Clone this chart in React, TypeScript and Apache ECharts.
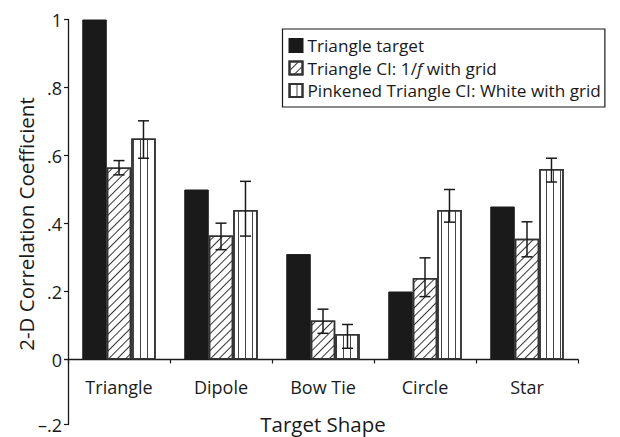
import React, { useEffect, useRef } from "react";
import * as echarts from "echarts";

// Target shapes along the x axis
const categories = ["Triangle", "Dipole", "Bow Tie", "Circle", "Star"];

// Series names
const seriesNames = [
  "Triangle target",
  "Triangle CI: 1/f with grid",
  "Pinkened Triangle CI: White with grid",
];

// 2-D correlation coefficients per shape
const targetValues = [1.0, 0.5, 0.31, 0.2, 0.45];
const pinkCIValues = [0.565, 0.365, 0.115, 0.24, 0.355];
const whiteCIValues = [0.65, 0.44, 0.075, 0.44, 0.56];

// Error bar extents (low / high) for the two CI series
const pinkCILow = [0.543, 0.323, 0.077, 0.185, 0.302];
const pinkCIHigh = [0.585, 0.401, 0.148, 0.299, 0.405];
const whiteCILow = [0.592, 0.363, 0.033, 0.404, 0.522];
const whiteCIHigh = [0.702, 0.524, 0.103, 0.5, 0.592];

const FONT = "'Open Sans', 'Noto Sans', sans-serif";
const INK = "#1a1a1a";
const CAT_GAP = 0.28;

function fmtTick(v: number): string {
  const r = Math.round(v * 10) / 10;
  if (r === 0) return "0";
  if (r === 1) return "1";
  const s = Math.abs(r).toFixed(1).replace(/^0/, "");
  return r < 0 ? "\u2013" + s : s;
}

export default function App() {
  const ref = useRef<HTMLDivElement>(null);

  useEffect(() => {
    if (!ref.current) return;
    const chart = echarts.init(ref.current, undefined, { renderer: "svg" });

    const errorData: number[][] = [];
    categories.forEach((_, i) => {
      errorData.push([i, pinkCILow[i], pinkCIHigh[i], 1]);
      errorData.push([i, whiteCILow[i], whiteCIHigh[i], 2]);
    });

    const axisLine = { show: true, onZero: false, lineStyle: { color: INK, width: 1.3 } };
    const axisTick = { show: true, length: 4, lineStyle: { color: INK, width: 1.2 } };
    const yLabel = { fontFamily: FONT, fontSize: 18, color: INK, margin: 6 };

    const option: any = {
      animation: false,
      backgroundColor: "#fff",
      // upper grid holds the bars (0..1), lower grid carries the negative part of the y axis
      grid: [
        { left: 68, right: 42, top: 19.5, bottom: 77.5, containLabel: false, outerBoundsMode: "none" },
        { left: 68, right: 42, top: 359.5, bottom: 12.5, containLabel: false, outerBoundsMode: "none" },
      ],
      legend: {
        data: seriesNames,
        orient: "vertical",
        left: 282.5,
        top: 29,
        padding: [8, 4, 8, 6],
        itemGap: 5.5,
        itemWidth: 13,
        itemHeight: 13,
        icon: "rect",
        borderColor: INK,
        borderWidth: 1.2,
        backgroundColor: "#fff",
        formatter: (name: string) =>
          name === seriesNames[1] ? "Triangle CI: 1/{i|f} with grid" : name,
        textStyle: {
          fontFamily: FONT,
          fontSize: 17.2,
          color: INK,
          rich: {
            i: { fontFamily: FONT, fontSize: 17.2, fontStyle: "italic", color: INK },
          },
        },
      },
      xAxis: [
        {
          type: "category",
          gridIndex: 0,
          data: categories,
          name: "Target Shape",
          nameLocation: "middle",
          nameGap: 54,
          nameTextStyle: { fontFamily: FONT, fontSize: 20.5, color: INK },
          axisLine,
          axisTick,
          axisLabel: { fontFamily: FONT, fontSize: 18, color: INK, margin: 18 },
          splitLine: { show: false },
        },
        { type: "category", gridIndex: 1, data: categories, show: false },
      ],
      yAxis: [
        {
          type: "value",
          gridIndex: 0,
          min: 0,
          max: 1,
          interval: 0.2,
          axisLine,
          axisTick,
          axisLabel: { ...yLabel, formatter: (v: number) => fmtTick(v) },
          splitLine: { show: false },
        },
        {
          type: "value",
          gridIndex: 1,
          min: -0.2,
          max: 0,
          interval: 0.2,
          axisLine,
          axisTick,
          axisLabel: {
            ...yLabel,
            formatter: (v: number) => (v < 0 ? fmtTick(v) : ""),
          },
          splitLine: { show: false },
        },
      ],
      graphic: [
        {
          type: "text",
          x: 26,
          y: 224,
          rotation: Math.PI / 2,
          style: {
            text: "2-D Correlation Coefficient",
            font: `20.5px ${FONT}`,
            fill: INK,
            align: "center",
            verticalAlign: "middle",
          },
        },
      ],
      series: [
        {
          name: seriesNames[0],
          type: "bar",
          data: targetValues,
          barGap: "0%",
          barCategoryGap: `${CAT_GAP * 100}%`,
          itemStyle: { color: INK, borderColor: INK, borderWidth: 1 },
        },
        {
          name: seriesNames[1],
          type: "bar",
          data: pinkCIValues,
          barGap: "0%",
          barCategoryGap: `${CAT_GAP * 100}%`,
          itemStyle: {
            color: "#fff",
            borderColor: "#333",
            borderWidth: 1.5,
            decal: {
              symbol: "rect",
              symbolSize: 1,
              color: "#333",
              dashArrayX: [1, 0],
              dashArrayY: [1, 5],
              rotation: -Math.PI / 4,
            },
          },
        },
        {
          name: seriesNames[2],
          type: "bar",
          data: whiteCIValues,
          barGap: "0%",
          barCategoryGap: `${CAT_GAP * 100}%`,
          itemStyle: {
            color: "#fff",
            borderColor: "#333",
            borderWidth: 1.5,
            decal: {
              symbol: "rect",
              symbolSize: 1,
              color: "#444",
              dashArrayX: [1, 6],
              dashArrayY: [1, 0],
              rotation: 0,
            },
          },
        },
        {
          name: "errors",
          type: "custom",
          z: 5,
          data: errorData,
          encode: { x: 0, y: [1, 2] },
          renderItem: (params: any, api: any) => {
            const ci = api.value(0);
            const lo = api.value(1);
            const hi = api.value(2);
            const slot = api.value(3);
            const band = api.size([1, 0])[0];
            const barW = (band * (1 - CAT_GAP)) / 3;
            const pLo = api.coord([ci, lo]);
            const pHi = api.coord([ci, hi]);
            const x = pLo[0] + (slot - 1) * barW;
            const cap = 5.5;
            const style = { stroke: INK, lineWidth: 1.5 };
            return {
              type: "group",
              children: [
                { type: "line", shape: { x1: x, y1: pLo[1], x2: x, y2: pHi[1] }, style },
                { type: "line", shape: { x1: x - cap, y1: pHi[1], x2: x + cap, y2: pHi[1] }, style },
                { type: "line", shape: { x1: x - cap, y1: pLo[1], x2: x + cap, y2: pLo[1] }, style },
              ],
            };
          },
        },
      ],
    };

    chart.setOption(option);
    return () => chart.dispose();
  }, []);

  return <div ref={ref} style={{ width: 620, height: 437, position: "absolute", left: 0, top: 0 }} />;
}
